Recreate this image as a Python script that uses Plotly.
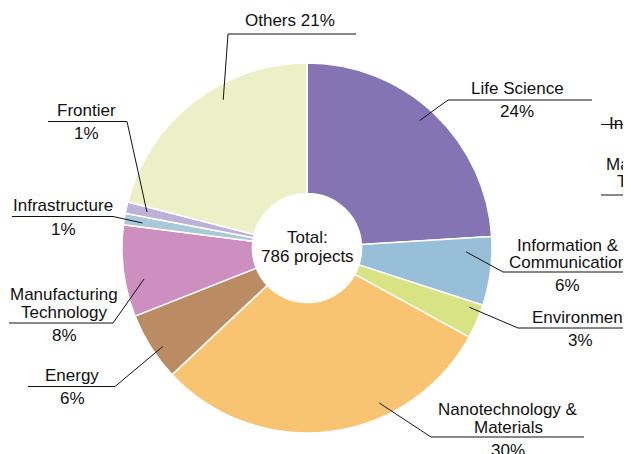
import math
import plotly.graph_objects as go

# ---------------- data ----------------
categories = ["Life Science", "Information & Communication", "Environment",
              "Nanotechnology & Materials", "Energy", "Manufacturing Technology",
              "Infrastructure", "Frontier", "Others"]
shares = [24, 6, 3, 30, 6, 8, 1, 1, 21]
share_labels = ["24%", "6%", "3%", "30%", "6%", "8%", "1%", "1%", "21%"]
total_projects = 786

colors = ["#8474B4", "#97BFD9", "#D8E383", "#F8C471", "#BB8B63",
          "#CC8FBF", "#A9C9DB", "#BDB0D9", "#ECF0C6"]

# ---------------- geometry (page pixels) ----------------
PAGE_W, PAGE_H = 631, 454
OFF = 8                      # default body margin of the html page
W, H = PAGE_W, PAGE_H - OFF
CX, CY, R = 307, 248, 185    # pie centre / radius in page px


def px(x):
    return (x - OFF) / W


def py(y):
    return 1 - (y - OFF) / H


fig = go.Figure(go.Pie(
    labels=categories, values=shares, sort=False, direction="clockwise",
    rotation=0, hole=0.295, textinfo="none", hoverinfo="label+percent",
    marker=dict(colors=colors, line=dict(color="white", width=1.5)),
    domain=dict(x=[px(CX - R), px(CX + R)], y=[py(CY + R), py(CY - R)]),
    showlegend=False,
))

FONT = dict(family="Liberation Sans, Arial, Helvetica, sans-serif", size=17, color="#111111")

label_layout = {
    "Life Science": dict(lines=[("Life Science", 517, 89), ("{p}", 517, 111)],
                         line=(100, 448, 592, "left"), leader=(0.48, 0.92)),
    "Information & Communication": dict(lines=[("Information &", 568, 245), ("Communication", 568, 262), ("{p}", 567, 285)],
                                        line=(272, 503, 640, "left"), leader=(0.23, 0.86)),
    "Environment": dict(lines=[("Environment", 580, 317), ("{p}", 580, 340)],
                        line=(328, 518, 640, "left"), leader=(0.19, 0.935)),
    "Nanotechnology & Materials": dict(lines=[("Nanotechnology &", 508, 409), ("Materials", 508, 427), ("{p}", 508, 450)],
                                       line=(437, 431, 584, "left"), leader=(0.335, 0.925)),
    "Energy": dict(lines=[("Energy", 72, 375), ("{p}", 72, 398)],
                   line=(386.5, 28, 115, "right"), leader=(0.41, 0.944)),
    "Manufacturing Technology": dict(lines=[("Manufacturing", 64, 294), ("Technology", 64, 312), ("{p}", 64, 335)],
                                     line=(323, 9, 113, "right"), leader=(0.375, 0.897)),
    "Infrastructure": dict(lines=[("Infrastructure", 63, 206), ("{p}", 63, 229)],
                           line=(216.5, 12, 113, "right"), leader=(0.4, 0.9)),
    "Frontier": dict(lines=[("Frontier", 86, 110), ("{p}", 86, 133)],
                     line=(121.5, 48, 127, "right"), leader=(0.53, 0.887)),
    "Others": dict(lines=[("Others {p}", 290, 21)],
                   line=(34, 228, 356, "left"), leader=(0.61, 0.92)),
}

annotations = []
shapes = []
LINE = dict(color="#111111", width=1)

total = sum(shares)
cum = 0
for cat, val, pl in zip(categories, shares, share_labels):
    a0 = cum / total * 360
    a1 = (cum + val) / total * 360
    cum += val
    lay = label_layout[cat]
    for txt, x, y in lay["lines"]:
        annotations.append(dict(text=txt.format(p=pl), x=px(x), y=py(y), xref="paper", yref="paper",
                                showarrow=False, xanchor="center", yanchor="middle", font=FONT))
    ly, lx0, lx1, side = lay["line"]
    shapes.append(dict(type="line", xref="paper", yref="paper", x0=px(lx0), x1=px(lx1),
                       y0=py(ly), y1=py(ly), line=LINE))
    t, rf = lay["leader"]
    ang = math.radians(a0 + t * (a1 - a0))
    ex = CX + rf * R * math.sin(ang)
    ey = CY - rf * R * math.cos(ang)
    sx = lx0 if side == "left" else lx1
    shapes.append(dict(type="line", xref="paper", yref="paper", x0=px(sx), y0=py(ly),
                       x1=px(ex), y1=py(ey), line=LINE))

annotations.append(dict(text="Total:", x=px(CX), y=py(237), xref="paper", yref="paper",
                        showarrow=False, font=FONT))
annotations.append(dict(text=f"{total_projects} projects", x=px(CX), y=py(257), xref="paper",
                        yref="paper", showarrow=False, font=FONT))

annotations.append(dict(text="Infrastructure", x=px(607), y=py(112), xref="paper", yref="paper",
                        showarrow=False, xanchor="left", font=FONT))
annotations.append(dict(text="Manufacturing", x=px(604), y=py(164), xref="paper", yref="paper",
                        showarrow=False, xanchor="left", font=FONT))
annotations.append(dict(text="Technology", x=px(615), y=py(181), xref="paper", yref="paper",
                        showarrow=False, xanchor="left", font=FONT))
shapes.append(dict(type="line", xref="paper", yref="paper", x0=px(601), x1=px(700),
                   y0=py(124.5), y1=py(124.5), line=LINE))
shapes.append(dict(type="line", xref="paper", yref="paper", x0=px(601), x1=px(700),
                   y0=py(195), y1=py(195), line=LINE))
shapes.append(dict(type="line", xref="paper", yref="paper", x0=px(625), x1=px(700),
                   y0=py(405), y1=py(405), line=LINE))

fig.update_layout(width=W, height=H, autosize=False,
                  margin=dict(l=0, r=0, t=0, b=0),
                  paper_bgcolor="white", plot_bgcolor="white",
                  annotations=annotations, shapes=shapes)

fig.write_html("out.html")
